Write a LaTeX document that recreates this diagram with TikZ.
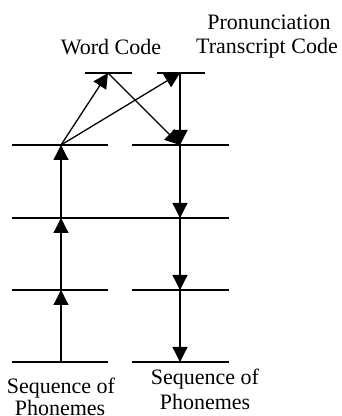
\documentclass[tikz,border=0pt]{standalone}
\usepackage{fontspec}
\setmainfont{Liberation Serif}
\usetikzlibrary{arrows.meta}
\begin{document}
\begin{tikzpicture}[x=1pt,y=1pt,
  lvl/.style={line width=1.3pt},
  arr/.style={line width=1.3pt,-{Triangle[width=15pt,length=15pt]}},
  lbl/.style={font=\fontsize{22}{24}\selectfont,anchor=base,inner sep=0pt}]
\useasboundingbox (0,0) rectangle (341,416);
% level lines
\coordinate (a1) at (85,343); \coordinate (a2) at (132,343);
\coordinate (b1) at (157,343); \coordinate (b2) at (205,343);
\coordinate (c1) at (12,271); \coordinate (c2) at (108,271);
\coordinate (d1) at (132,271); \coordinate (d2) at (229,271);
\coordinate (e1) at (12,198); \coordinate (e2) at (229,198);
\coordinate (f1) at (12,126); \coordinate (f2) at (108,126);
\coordinate (g1) at (132,126); \coordinate (g2) at (229,126);
\coordinate (h1) at (12,54); \coordinate (h2) at (108,54);
\coordinate (i1) at (132,54); \coordinate (i2) at (229,54);
\draw[lvl] (a1)--(a2) (b1)--(b2) (c1)--(c2) (d1)--(d2) (e1)--(e2)
  (f1)--(f2) (g1)--(g2) (h1)--(h2) (i1)--(i2);
% points
\coordinate (L0) at (61,54); \coordinate (L1) at (61,126);
\coordinate (L2) at (61,198); \coordinate (L3) at (61,271);
\coordinate (W) at (108,343);
\coordinate (P) at (180,343); \coordinate (R1) at (180,271);
\coordinate (R2) at (180,198); \coordinate (R3) at (180,126);
\coordinate (R4) at (180,54);
\draw[arr] (L0)--(L1);
\draw[arr] (L1)--(L2);
\draw[arr] (L2)--(L3);
\draw[arr] (L3)--(W);
\draw[arr] (L3)--(P);
\draw[arr] (W)--(R1);
\draw[arr] (P)--(R1);
\draw[arr] (R1)--(R2);
\draw[arr] (R2)--(R3);
\draw[arr] (R3)--(R4);
% labels
\node[lbl] (wc) at (111,361) {Word Code};
\node[lbl] (pr) at (269,386.5) {Pronunciation};
\node[lbl] (tc) at (267,362) {Transcript Code};
\node[lbl] (s1) at (61,23) {Sequence of};
\node[lbl] (p1) at (60,0.5) {Phonemes};
\node[lbl] (s2) at (205,31) {Sequence of};
\node[lbl] (p2) at (205,6) {Phonemes};
\end{tikzpicture}
\end{document}
